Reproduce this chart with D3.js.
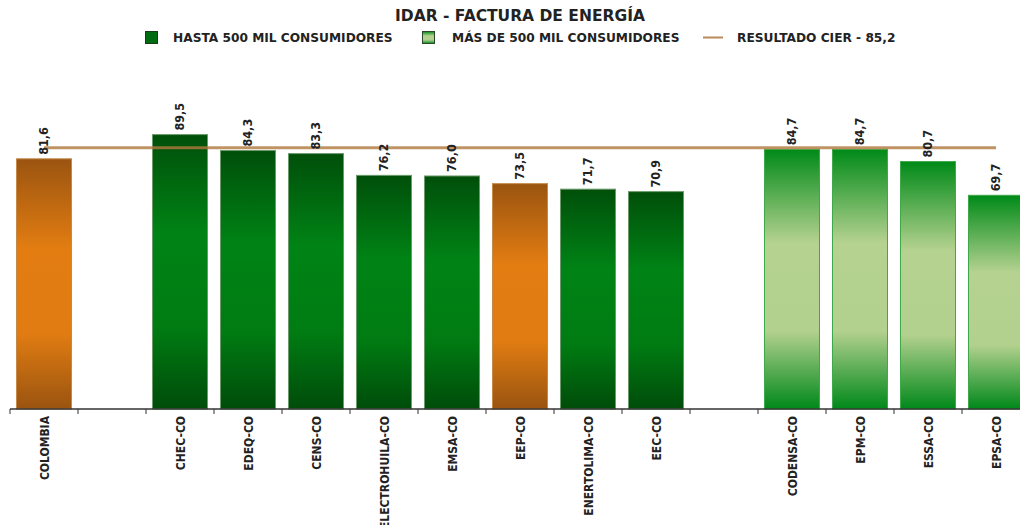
<!DOCTYPE html>
<html>
<head>
<meta charset="utf-8">
<script src="https://cdn.jsdelivr.net/npm/d3@7"></script>
<style>
  body { margin: 0; background: #fff; }
  svg { display: block; }
  .title { font-family: 'DejaVu Sans'; font-weight: bold; font-size: 15.5px; fill: #222; }
  .legend text { font-family: 'DejaVu Sans'; font-weight: bold; font-size: 12.2px; fill: #222; }
  .axis text { font-family: 'DejaVu Sans Condensed'; font-weight: bold; font-size: 12px; fill: #222; }
  .val { font-family: 'DejaVu Sans Condensed'; font-weight: bold; font-size: 12.5px; fill: #222; }
</style>
</head>
<body>
<svg width="1020" height="525"></svg>
<script>
var svg = d3.select('svg');

// data ('' = empty slot)
var categories = ['COLOMBIA', '', 'CHEC-CO', 'EDEQ-CO', 'CENS-CO', 'ELECTROHUILA-CO', 'EMSA-CO',
                  'EEP-CO', 'ENERTOLIMA-CO', 'EEC-CO', '', 'CODENSA-CO', 'EPM-CO', 'ESSA-CO', 'EPSA-CO'];
var values = [81.6, null, 89.5, 84.3, 83.3, 76.2, 76.0, 73.5, 71.7, 70.9, null, 84.7, 84.7, 80.7, 69.7];
// o = reference (orange), s = hasta 500 mil, l = mas de 500 mil
var groups = ['o', '', 's', 's', 's', 's', 's', 'o', 's', 's', '', 'l', 'l', 'l', 'l'];
var cierValue = 85.2;
var legendLabels = ['HASTA 500 MIL CONSUMIDORES', 'MÁS DE 500 MIL CONSUMIDORES', 'RESULTADO CIER - 85,2'];

var baseY = 409;
var slot = 68;
var x = d3.scaleBand()
    .domain(d3.range(categories.length))
    .range([10, 10 + slot * categories.length])
    .paddingInner(12 / slot)
    .paddingOuter(6 / slot);
var y = d3.scaleLinear().domain([0, 100]).range([baseY, baseY - 306.6]);

// gradients
var defs = svg.append('defs');
var grads = {
    o: ['#9a5410', '#e37d12', '#e07c12', '#9a5410'],
    s: ['#004f0a', '#008315', '#007c12', '#004c0a'],
    l: ['#008a18', '#b5d290', '#b3d18e', '#00881a']
};
Object.keys(grads).forEach(function(k){
    var g = defs.append('linearGradient')
        .attr('id', 'g-' + k)
        .attr('x1', 0).attr('y1', 0).attr('x2', 0).attr('y2', 1);
    [0, 0.36, 0.7, 1].forEach(function(off, i){
        g.append('stop').attr('offset', off).attr('stop-color', grads[k][i]);
    });
});
var strokes = { o: '#c58a4a', s: '#6a9a6a', l: '#3fa84a' };

// title
svg.append('text')
    .attr('class', 'title')
    .attr('x', 520).attr('y', 21)
    .attr('text-anchor', 'middle')
    .text('IDAR - FACTURA DE ENERGÍA');

// legend
var legend = svg.append('g').attr('class', 'legend');
legend.append('rect').attr('x', 145.5).attr('y', 31.5).attr('width', 12).attr('height', 12)
    .attr('fill', '#006b10').attr('stroke', '#1a3a1a');
legend.append('text').attr('x', 173).attr('y', 42).text(legendLabels[0]);
legend.append('rect').attr('x', 422.5).attr('y', 31.5).attr('width', 12).attr('height', 12)
    .attr('fill', 'url(#g-l)').attr('stroke', '#2a4a2a');
legend.append('text').attr('x', 452).attr('y', 42).text(legendLabels[1]);
legend.append('line').attr('x1', 703).attr('x2', 723).attr('y1', 37.5).attr('y2', 37.5)
    .attr('stroke', '#b98a5c').attr('stroke-width', 2);
legend.append('text').attr('x', 737).attr('y', 42).text(legendLabels[2]);

// bars
var idx = d3.range(categories.length).filter(function(i){ return values[i] != null; });
svg.append('g').selectAll('rect')
    .data(idx)
    .enter()
    .append('rect')
    .attr('x', function(i){ return x(i) + 0.5; })
    .attr('y', function(i){ return y(values[i]); })
    .attr('width', x.bandwidth() - 1)
    .attr('height', function(i){ return baseY - y(values[i]); })
    .attr('fill', function(i){ return 'url(#g-' + groups[i] + ')'; })
    .attr('stroke', function(i){ return strokes[groups[i]]; })
    .attr('stroke-width', 1);

// reference line (CIER) through category centres
var line = d3.line()
    .x(function(i){ return x(i) + x.bandwidth() / 2; })
    .y(function(){ return y(cierValue); });
svg.append('path')
    .datum(d3.range(categories.length))
    .attr('d', line)
    .attr('fill', 'none')
    .attr('stroke', '#b0783f')
    .attr('stroke-opacity', 0.8)
    .attr('stroke-width', 3);

// value labels
svg.append('g').selectAll('text')
    .data(idx)
    .enter()
    .append('text')
    .attr('class', 'val')
    .attr('transform', function(i){
        return 'translate(' + [x(i) + x.bandwidth() / 2 + 4, y(values[i]) - 4] + ')rotate(-90)';
    })
    .text(function(i){ return values[i].toFixed(1).replace('.', ','); });

// x axis
var axis = svg.append('g')
    .attr('class', 'axis')
    .attr('transform', 'translate(0,' + baseY + ')');
axis.append('line')
    .attr('x1', 10).attr('x2', 1020)
    .attr('stroke', '#333').attr('stroke-width', 1.5);
axis.selectAll('.tk')
    .data(d3.range(categories.length))
    .enter()
    .append('line')
    .attr('class', 'tk')
    .attr('x1', function(i){ return 10 + i * slot; })
    .attr('x2', function(i){ return 10 + i * slot; })
    .attr('y1', 0).attr('y2', 5)
    .attr('stroke', '#333');
axis.selectAll('.lbl')
    .data(d3.range(categories.length))
    .enter()
    .append('text')
    .attr('class', 'lbl')
    .attr('text-anchor', 'end')
    .attr('transform', function(i){
        return 'translate(' + [x(i) + x.bandwidth() / 2 + 5, 7] + ')rotate(-90)';
    })
    .text(function(i){ return categories[i]; });
</script>
</body>
</html>
